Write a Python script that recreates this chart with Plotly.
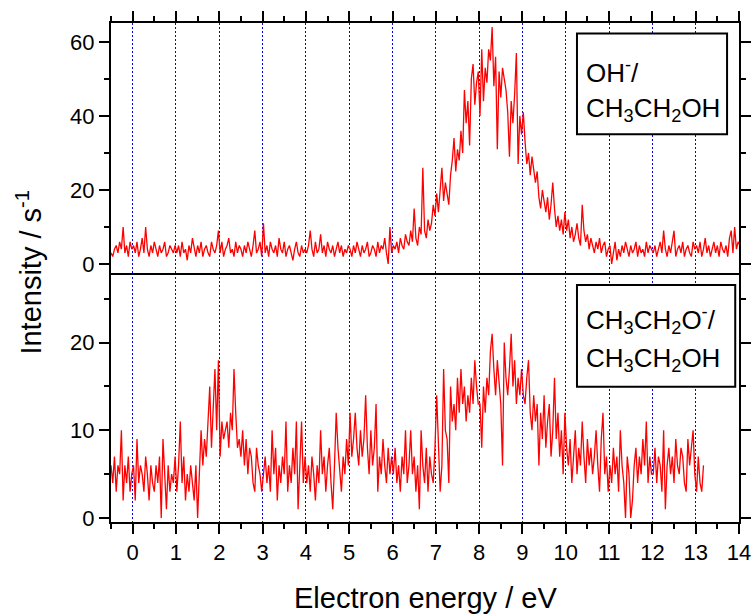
import numpy as np
import plotly.graph_objects as go

# ---------------- data ----------------
x_start = -0.5   # eV, first scan point
x_step = 0.04    # eV, scan step

# OH- / CH3CH2OH  (counts per s)
oh_intensity = [
    3, 2, 4, 5, 3, 6, 4, 10, 3, 5, 2, 6, 4,
    5, 3, 6, 2, 4, 7, 3, 10, 4, 2, 5, 3, 6, 4, 2, 5, 3, 4, 6, 2, 3, 5, 4, 3, 5,
    3, 5, 2, 6, 3, 4, 1, 5, 3, 7, 4, 2, 5, 3, 6, 2, 4, 5, 3, 2, 6, 4, 3, 5, 9,
    3, 6, 2, 4, 5, 7, 3, 4, 2, 6, 3, 5, 4, 2, 5, 3, 6, 4, 2, 5, 9, 3, 4, 6, 2,
    11, 3, 5, 2, 6, 4, 3, 5, 2, 7, 4, 3, 6, 2, 4, 5, 3, 1, 4, 6, 3, 2, 5, 3, 4,
    3, 5, 9, 4, 2, 6, 3, 4, 8, 3, 5, 2, 6, 4, 3, 5, 2, 4, 6, 3, 5, 2, 4, 3, 5,
    4, 2, 5, 3, 6, 4, 2, 5, 3, 4, 6, 2, 3, 5, 4, 2, 6, 3, 5, 4, 7, 3, 0, 10, 3,
    5, 4, 6, 3, 7, 5, 4, 8, 6, 5, 9, 6, 15, 7, 5, 10, 8, 26, 9, 7, 12, 9, 11, 16, 13,
    19, 14, 21, 26, 17, 22, 19, 16, 24, 28, 34, 25, 31, 28, 36, 30, 47, 38, 44, 32, 50, 54, 43, 49, 52,
    40, 58, 44, 53, 49, 58, 55, 64, 48, 56, 31, 52, 45, 53, 50, 47, 41, 29, 44, 38, 46, 57, 27, 40, 35,
    41, 33, 27, 30, 24, 29, 26, 22, 25, 18, 15, 20, 17, 14, 18, 12, 16, 22, 15, 10, 13, 9, 12, 8, 14,
    9, 12, 7, 10, 6, 8, 11, 7, 5, 16, 9, 6, 8, 4, 7, 5, 3, 6, 4, 7, 3, 5, 6, 2, 4,
    5, 0, 3, 6, 1, 4, 2, 5, 3, 6, 4, 2, 5, 3, 4, 6, 2, 5, 3, 4, 2, 6, 3, 5, 4,
    3, 5, 2, 4, 6, 3, 9, 4, 2, 5, 3, 6, 9, 2, 4, 5, 3, 6, 2, 4, 5, 3, 2, 6, 4,
    5, 3, 6, 2, 4, 7, 3, 5, 2, 4, 6, 3, 5, 2, 6, 4, 3, 5, 2, 7, 9, 3, 10, 4, 6,
    5,
]

# CH3CH2O- / CH3CH2OH  (counts per s)
etho_intensity = [
    6, 4, 7, 3, 6, 5, 10, 2, 6, 4, 7, 3, 5,
    6, 2, 9, 4, 6, 5, 3, 7, 5, 2, 6, 4, 3, 6, 4, 7, 0, 9, 5, 1, 6, 3, 5, 4, 7,
    3, 6, 11, 4, 7, 2, 5, 3, 6, 4, 2, 6, 0, 5, 10, 6, 9, 7, 12, 15, 8, 12, 17, 10, 18,
    7, 11, 9, 10, 11, 8, 12, 10, 17, 12, 8, 9, 7, 10, 6, 9, 5, 8, 7, 4, 3, 8, 6, 5, 3,
    5, 7, 4, 6, 3, 10, 5, 8, 2, 6, 4, 7, 5, 11, 3, 6, 4, 8, 5, 11, 1, 6, 11, 4, 7,
    4, 6, 3, 7, 5, 2, 6, 4, 10, 5, 7, 3, 6, 8, 4, 1, 6, 12, 8, 5, 3, 7, 5, 9, 6,
    12, 7, 9, 12, 8, 6, 10, 7, 9, 14, 8, 5, 10, 6, 8, 13, 3, 7, 5, 9, 6, 4, 8, 5, 7,
    5, 8, 4, 6, 3, 7, 5, 10, 4, 6, 10, 5, 7, 3, 6, 1, 10, 6, 4, 8, 3, 7, 5, 4, 8,
    14, 8, 3, 6, 17, 10, 9, 4, 15, 11, 13, 10, 16, 12, 17, 13, 15, 11, 14, 12, 16, 13, 18, 15, 13,
    13, 8, 15, 12, 16, 14, 19, 21, 17, 14, 18, 15, 13, 6, 20, 16, 14, 17, 21, 15, 18, 13, 16, 14, 17,
    14, 13, 16, 18, 12, 10, 14, 11, 13, 6, 12, 9, 14, 8, 11, 13, 7, 10, 16, 9, 12, 7, 10, 5, 12,
    8, 6, 9, 4, 7, 10, 5, 8, 6, 11, 7, 4, 9, 6, 8, 5, 7, 10, 6, 3, 9, 12, 5, 7, 3,
    6, 4, 8, 5, 7, 3, 10, 6, 4, 0, 7, 5, 0, 2, 6, 8, 4, 7, 5, 9, 6, 11, 4, 7, 5,
    5, 8, 4, 7, 6, 3, 10, 1, 6, 8, 5, 7, 4, 9, 6, 5, 8, 7, 4, 3, 9, 6, 8, 10, 5,
    3, 7, 4, 3, 6,
]

x_ticks = list(range(0, 15))
top_y_ticks = [0, 20, 40, 60]
bottom_y_ticks = [0, 10, 20]
x_range = [-0.5, 14]
top_y_range = [-2.3, 65.1]
bottom_y_range = [-0.46, 28]

top_label_lines = ["OH<sup>-</sup>/", "CH<sub>3</sub>CH<sub>2</sub>OH"]
bottom_label_lines = ["CH<sub>3</sub>CH<sub>2</sub>O<sup>-</sup>/",
                      "CH<sub>3</sub>CH<sub>2</sub>OH"]

x_top = x_start + x_step * np.arange(len(oh_intensity))
x_bottom = x_start + x_step * np.arange(len(etho_intensity))

FONT = "Liberation Sans, Arial, sans-serif"

fig = go.Figure()
fig.add_trace(go.Scatter(x=x_bottom, y=etho_intensity, mode="lines",
                         line=dict(color="#FF0000", width=1.3),
                         xaxis="x", yaxis="y", showlegend=False))
fig.add_trace(go.Scatter(x=x_top, y=oh_intensity, mode="lines",
                         line=dict(color="#FF0000", width=1.3),
                         xaxis="x2", yaxis="y2", showlegend=False))

tick_style = dict(ticks="outside", ticklen=10, tickwidth=2, tickcolor="black")
minor_x = dict(dtick=0.5, tick0=0, ticks="outside", ticklen=5,
               tickwidth=2, tickcolor="black", showgrid=False)
grid_style = dict(showgrid=True, gridcolor="#0000FF", griddash="2px,2px", gridwidth=1)
tickfont = dict(family=FONT, size=22, color="black")

fig.update_layout(
    width=752, height=615,
    margin=dict(l=111, r=13, t=23, b=93, pad=0, autoexpand=False),
    paper_bgcolor="white", plot_bgcolor="white",
    font=dict(family=FONT, color="black"),
    # bottom panel x axis: ticks + labels at the bottom only
    xaxis=dict(domain=[0, 1], anchor="y", range=x_range, automargin=False,
               tickmode="array", tickvals=x_ticks, **tick_style,
               minor=minor_x, showline=True, linecolor="black", linewidth=2,
               mirror=False, zeroline=False, tickfont=tickfont, **grid_style),
    # top panel x axis: ticks on the top edge, plain line at the divider
    xaxis2=dict(domain=[0, 1], anchor="y2", side="top", matches="x",
                range=x_range, automargin=False,
                tickmode="array", tickvals=x_ticks, **tick_style,
                minor=minor_x, showline=True, linecolor="black", linewidth=2,
                mirror=True, zeroline=False, showticklabels=False, **grid_style),
    yaxis=dict(domain=[0, 0.5], anchor="x", range=bottom_y_range, automargin=False,
               tickmode="array", tickvals=bottom_y_ticks, **tick_style,
               minor=dict(dtick=5, tick0=0, ticks="outside", ticklen=5,
                          tickwidth=2, tickcolor="black"),
               showline=True, linecolor="black", linewidth=2, mirror="ticks",
               showgrid=False, zeroline=False, tickfont=tickfont),
    yaxis2=dict(domain=[0.5, 1], anchor="x2", range=top_y_range, automargin=False,
                tickmode="array", tickvals=top_y_ticks, **tick_style,
                minor=dict(dtick=10, tick0=0, ticks="outside", ticklen=5,
                           tickwidth=2, tickcolor="black"),
                showline=True, linecolor="black", linewidth=2, mirror="ticks",
                showgrid=False, zeroline=False, tickfont=tickfont),
)

# label boxes
fig.add_shape(type="rect", xref="paper", yref="paper",
              x0=0.742, x1=0.981, y0=0.777, y1=0.979,
              line=dict(color="black", width=2), fillcolor="white", layer="above")
fig.add_shape(type="rect", xref="paper", yref="paper",
              x0=0.742, x1=0.994, y0=0.271, y1=0.475,
              line=dict(color="black", width=2), fillcolor="white", layer="above")

for txt, yy in zip(top_label_lines, [0.903, 0.826]):
    fig.add_annotation(text=txt, xref="paper", yref="paper",
                       x=0.7525, y=yy, xanchor="left", yanchor="middle",
                       align="left", showarrow=False,
                       font=dict(family=FONT, size=26, color="black"))
for txt, yy in zip(bottom_label_lines, [0.404, 0.326]):
    fig.add_annotation(text=txt, xref="paper", yref="paper",
                       x=0.7525, y=yy, xanchor="left", yanchor="middle",
                       align="left", showarrow=False,
                       font=dict(family=FONT, size=26, color="black"))

# axis titles
fig.add_annotation(text="Intensity / s<sup>-1</sup>", xref="paper", yref="paper",
                   x=-0.132, y=0.5, xanchor="center", yanchor="middle",
                   textangle=-90, showarrow=False,
                   font=dict(family=FONT, size=29, color="black"))
fig.add_annotation(text="Electron energy / eV", xref="paper", yref="paper",
                   x=0.5, y=-0.1515, xanchor="center", yanchor="middle",
                   showarrow=False,
                   font=dict(family=FONT, size=29, color="black"))

fig.write_html("out.html")
